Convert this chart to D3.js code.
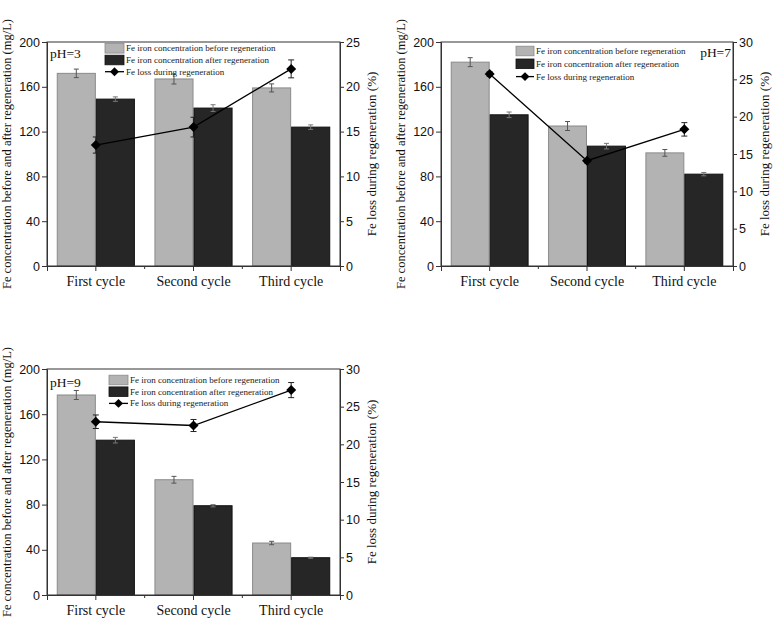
<!DOCTYPE html>
<html>
<head>
<meta charset="utf-8">
<script src="https://cdn.jsdelivr.net/npm/d3@7"></script>
<style>
  html, body { margin: 0; padding: 0; background: #fff; }
  svg { display: block; }
</style>
</head>
<body>
<svg id="chart" width="775" height="637"></svg>
<script>
// ---------------- DATA ----------------
const cycles = ["First cycle", "Second cycle", "Third cycle"];
const phLabels = ["pH=3", "pH=7", "pH=9"];
const legendLabels = [
  "Fe iron concentration before regeneration",
  "Fe iron concentration after regeneration",
  "Fe loss during regeneration"
];
const leftTitle = "Fe concentration before and after regeneration (mg/L)";
const rightTitle = "Fe loss during regeneration (%)";

const leftTicks = [0, 40, 80, 120, 160, 200];
const rightTicks25 = [0, 5, 10, 15, 20, 25];
const rightTicks30 = [0, 5, 10, 15, 20, 25, 30];

// pH = 3
const ph3Before = [172, 167, 159];
const ph3BeforeErr = [3.8, 4.5, 3.6];
const ph3After = [149, 141, 124];
const ph3AfterErr = [2, 3, 2];
const ph3Loss = [13.5, 15.5, 22.0];
const ph3LossErr = [0.9, 1.1, 1.0];

// pH = 7
const ph7Before = [182, 125, 101];
const ph7BeforeErr = [4, 4, 3];
const ph7After = [135, 107, 82];
const ph7AfterErr = [2.5, 2.5, 1.5];
const ph7Loss = [25.7, 14.1, 18.3];
const ph7LossErr = [0.3, 0.3, 0.9];

// pH = 9
const ph9Before = [177, 102, 46];
const ph9BeforeErr = [4, 3, 1.5];
const ph9After = [137, 79, 33];
const ph9AfterErr = [2.5, 1, 0.5];
const ph9Loss = [23.0, 22.5, 27.2];
const ph9LossErr = [0.9, 0.8, 1.0];

// ---------------- LAYOUT ----------------
const panels = [
  { left: 47, right: 340, top: 42, bottom: 266, rmax: 25, rticks: rightTicks25,
    before: ph3Before, beforeErr: ph3BeforeErr, after: ph3After, afterErr: ph3AfterErr,
    loss: ph3Loss, lossErr: ph3LossErr, ph: phLabels[0],
    phX: 50, phY: 58, phAnchor: "start",
    legX: 105, legY: 48.3, legStep: 11.7, legW: 19 },
  { left: 441, right: 733, top: 42, bottom: 266, rmax: 30, rticks: rightTicks30,
    before: ph7Before, beforeErr: ph7BeforeErr, after: ph7After, afterErr: ph7AfterErr,
    loss: ph7Loss, lossErr: ph7LossErr, ph: phLabels[1],
    phX: 731, phY: 57, phAnchor: "end",
    legX: 516, legY: 51, legStep: 12.8, legW: 18 },
  { left: 47, right: 340, top: 369, bottom: 595, rmax: 30, rticks: rightTicks30,
    before: ph9Before, beforeErr: ph9BeforeErr, after: ph9After, afterErr: ph9AfterErr,
    loss: ph9Loss, lossErr: ph9LossErr, ph: phLabels[2],
    phX: 50, phY: 386.5, phAnchor: "start",
    legX: 109, legY: 380, legStep: 11.7, legW: 19 }
];

const serif = "'Liberation Serif', 'Times New Roman', serif";
const sans = "'Liberation Sans', Arial, sans-serif";
const lightFill = "#b3b3b3", lightStroke = "#8a8a8a";
const darkFill = "#262626", darkStroke = "#111";
const axisColor = "#333";

const svg = d3.select("#chart");

panels.forEach(p => {
  const g = svg.append("g");
  const x = d3.scaleBand().domain(cycles).range([p.left, p.right]).paddingInner(0.2).paddingOuter(0.1);
  const xc = d3.scaleBand().domain(cycles).range([p.left, p.right]);
  const y = d3.scaleLinear().domain([0, 200]).range([p.bottom, p.top]);
  const yr = d3.scaleLinear().domain([0, p.rmax]).range([p.bottom, p.top]);
  const bw = x.bandwidth() / 2;
  const center = c => xc(c) + xc.bandwidth() / 2;

  // bars
  g.selectAll(".bb").data(cycles).enter().append("rect")
    .attr("x", c => center(c) - bw + 0.5)
    .attr("y", (c, i) => y(p.before[i]))
    .attr("width", bw - 1)
    .attr("height", (c, i) => y(0) - y(p.before[i]))
    .attr("fill", lightFill).attr("stroke", lightStroke).attr("stroke-width", 1);
  g.selectAll(".ba").data(cycles).enter().append("rect")
    .attr("x", c => center(c) + 0.5)
    .attr("y", (c, i) => y(p.after[i]))
    .attr("width", bw - 1)
    .attr("height", (c, i) => y(0) - y(p.after[i]))
    .attr("fill", darkFill).attr("stroke", darkStroke).attr("stroke-width", 1);

  // bar error bars
  function errBars(vals, errs, off, color) {
    cycles.forEach((c, i) => {
      const cx = center(c) + off;
      const y1 = y(vals[i] + errs[i]), y2 = y(vals[i] - errs[i]);
      g.append("line").attr("x1", cx).attr("x2", cx).attr("y1", y1).attr("y2", y2)
        .attr("stroke", color).attr("stroke-width", 1);
      [y1, y2].forEach(yy => g.append("line").attr("x1", cx - 2.5).attr("x2", cx + 2.5)
        .attr("y1", yy).attr("y2", yy).attr("stroke", color).attr("stroke-width", 1));
    });
  }
  errBars(p.before, p.beforeErr, -bw / 2, "#555");
  errBars(p.after, p.afterErr, bw / 2, "#777");

  // frame
  g.append("rect").attr("x", p.left).attr("y", p.top)
    .attr("width", p.right - p.left).attr("height", p.bottom - p.top)
    .attr("fill", "none").attr("stroke", axisColor).attr("stroke-width", 1);

  // left axis
  const la = g.append("g").attr("transform", `translate(${p.left},0)`)
    .call(d3.axisLeft(y).tickValues(leftTicks).tickSize(5).tickPadding(2).tickFormat(d3.format("d")));
  la.select(".domain").attr("stroke", axisColor);
  la.selectAll(".tick line").attr("stroke", axisColor);
  la.selectAll("text").attr("font-family", sans).attr("font-size", "12.5px").attr("fill", "#111");

  // right axis
  const ra = g.append("g").attr("transform", `translate(${p.right},0)`)
    .call(d3.axisRight(yr).tickValues(p.rticks).tickSize(4).tickPadding(2).tickFormat(d3.format("d")));
  ra.select(".domain").attr("stroke", axisColor);
  ra.selectAll(".tick line").attr("stroke", axisColor);
  ra.selectAll("text").attr("font-family", sans).attr("font-size", "12.5px").attr("fill", "#111");

  // bottom axis (major ticks at category centres)
  const ba = g.append("g").attr("transform", `translate(0,${p.bottom})`)
    .call(d3.axisBottom(xc).tickSize(5).tickPadding(5));
  ba.select(".domain").attr("stroke", axisColor);
  ba.selectAll(".tick line").attr("stroke", axisColor);
  ba.selectAll("text").attr("font-family", serif).attr("font-size", "14px").attr("fill", "#111");
  // minor ticks at band boundaries
  cycles.slice(1).forEach(c => {
    g.append("line").attr("x1", xc(c)).attr("x2", xc(c))
      .attr("y1", p.bottom).attr("y2", p.bottom + 3).attr("stroke", axisColor);
  });

  // line series with error bars
  const line = d3.line().x(c => center(c)).y((c, i) => yr(p.loss[i]));
  g.append("path").datum(cycles).attr("d", line)
    .attr("fill", "none").attr("stroke", "#000").attr("stroke-width", 1.3);
  cycles.forEach((c, i) => {
    const cx = center(c);
    const y1 = yr(p.loss[i] + p.lossErr[i]), y2 = yr(p.loss[i] - p.lossErr[i]);
    g.append("line").attr("x1", cx).attr("x2", cx).attr("y1", y1).attr("y2", y2)
      .attr("stroke", "#222").attr("stroke-width", 1);
    [y1, y2].forEach(yy => g.append("line").attr("x1", cx - 3).attr("x2", cx + 3)
      .attr("y1", yy).attr("y2", yy).attr("stroke", "#222").attr("stroke-width", 1));
  });
  g.selectAll(".mk").data(cycles).enter().append("path")
    .attr("d", d3.symbol().type(d3.symbolSquare).size(50))
    .attr("transform", (c, i) => `translate(${center(c)},${yr(p.loss[i])}) rotate(45)`)
    .attr("fill", "#000");

  // pH label
  g.append("text").attr("x", p.phX).attr("y", p.phY).attr("text-anchor", p.phAnchor)
    .attr("font-family", serif).attr("font-size", "13.5px").attr("fill", "#111").text(p.ph);

  // legend
  const lg = g.append("g");
  [0, 1].forEach(k => {
    lg.append("rect").attr("x", p.legX).attr("y", p.legY + k * p.legStep - 4.8)
      .attr("width", p.legW).attr("height", 9.6)
      .attr("fill", k === 0 ? lightFill : darkFill)
      .attr("stroke", k === 0 ? lightStroke : darkStroke).attr("stroke-width", 0.8);
  });
  const ly = p.legY + 2 * p.legStep;
  lg.append("line").attr("x1", p.legX).attr("x2", p.legX + p.legW).attr("y1", ly).attr("y2", ly)
    .attr("stroke", "#000").attr("stroke-width", 1.3);
  lg.append("path").attr("d", d3.symbol().type(d3.symbolSquare).size(40))
    .attr("transform", `translate(${p.legX + p.legW / 2},${ly}) rotate(45)`).attr("fill", "#000");
  legendLabels.forEach((t, k) => {
    lg.append("text").attr("x", p.legX + p.legW + 2).attr("y", p.legY + k * p.legStep + 3)
      .attr("font-family", serif).attr("font-size", "9px").attr("fill", "#222").text(t);
  });

  // axis titles
  const cy = (p.top + p.bottom) / 2;
  g.append("text").attr("transform", `translate(${p.left - 36},${cy}) rotate(-90)`)
    .attr("text-anchor", "middle").attr("font-family", serif).attr("font-size", "12.5px")
    .attr("fill", "#111").text(leftTitle);
  g.append("text").attr("transform", `translate(${p.right + 36},${cy}) rotate(-90)`)
    .attr("text-anchor", "middle").attr("font-family", serif).attr("font-size", "13px")
    .attr("fill", "#111").text(rightTitle);
});
</script>
</body>
</html>
